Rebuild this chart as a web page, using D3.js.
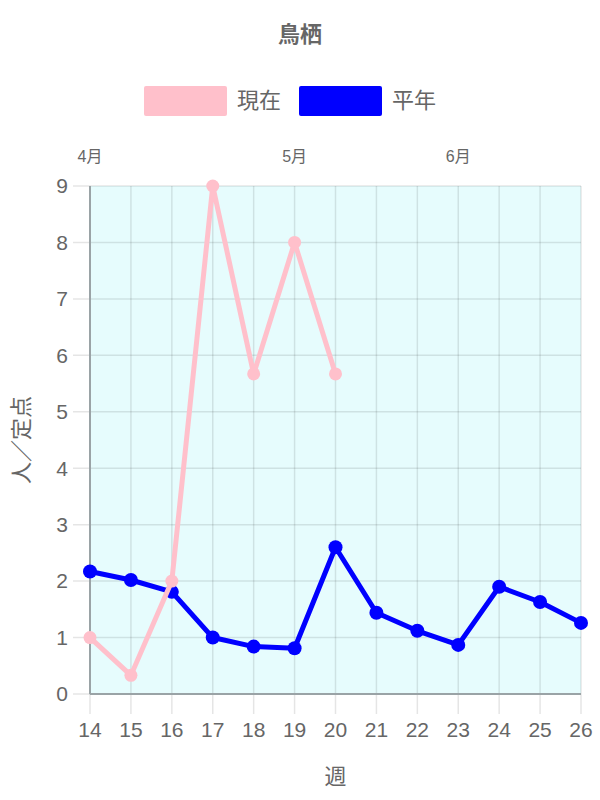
<!DOCTYPE html>
<html>
<head>
<meta charset="utf-8">
<script src="https://cdn.jsdelivr.net/npm/d3@7"></script>
<style>
  body { margin: 0; background: #fff; }
  text { font-family: "Liberation Sans", "Noto Sans CJK JP", sans-serif; fill: #666; }
</style>
</head>
<body>
<div id="chart"></div>
<script>
// data
var weeks = [14, 15, 16, 17, 18, 19, 20, 21, 22, 23, 24, 25, 26];
var current = [1, 0.33, 2, 9, 5.67, 8, 5.67];          // 現在 (weeks 14-20)
var average = [2.17, 2.02, 1.81, 1.0, 0.84, 0.81, 2.6, 1.44, 1.12, 0.87, 1.9, 1.63, 1.26]; // 平年
var months = [{ label: "4月", week: 14 }, { label: "5月", week: 19 }, { label: "6月", week: 23 }];
var yTicks = [0, 1, 2, 3, 4, 5, 6, 7, 8, 9];

var W = 600, H = 800;
var margin = { top: 186, right: 19, bottom: 106, left: 90 };
var width = W - margin.left - margin.right;
var height = H - margin.top - margin.bottom;

var svg = d3.select("#chart").append("svg")
    .attr("width", W)
    .attr("height", H);

var g = svg.append("g")
    .attr("transform", "translate(" + margin.left + "," + margin.top + ")");

var x = d3.scaleLinear().domain([14, 26]).range([0, width]);
var y = d3.scaleLinear().domain([0, 9]).range([height, 0]);

// plot background
g.append("rect")
    .attr("width", width).attr("height", height)
    .style("fill", "#e6fcfd");

// horizontal grid, with tick marks out to the left
g.selectAll("hgrid").data(yTicks).enter().append("line")
    .attr("x1", -17).attr("x2", width)
    .attr("y1", function (d) { return y(d) }).attr("y2", function (d) { return y(d) })
    .style("stroke", "rgba(0,0,0,0.1)")
    .style("stroke-width", 1.5);

// vertical grid, ticks below
g.selectAll("vgrid").data(weeks).enter().append("line")
    .attr("x1", function (d) { return x(d) }).attr("x2", function (d) { return x(d) })
    .attr("y1", 0).attr("y2", height + 20)
    .style("stroke", "rgba(0,0,0,0.1)")
    .style("stroke-width", 1.5);

// axis lines
g.append("line").attr("x1", 0).attr("x2", 0).attr("y1", 0).attr("y2", height)
    .style("stroke", "#9aa3a6").style("stroke-width", 2);
g.append("line").attr("x1", 0).attr("x2", width).attr("y1", height).attr("y2", height)
    .style("stroke", "#9aa3a6").style("stroke-width", 2);

// y tick labels
g.selectAll("ylab").data(yTicks).enter().append("text")
    .attr("x", -22)
    .attr("y", function (d) { return y(d) })
    .attr("dy", "0.35em")
    .attr("text-anchor", "end")
    .style("font-size", "21px")
    .text(function (d) { return d });

// x tick labels
g.selectAll("xlab").data(weeks).enter().append("text")
    .attr("x", function (d) { return x(d) })
    .attr("y", height + 43)
    .attr("text-anchor", "middle")
    .style("font-size", "21px")
    .text(function (d) { return d });

// month labels on top
g.selectAll("mlab").data(months).enter().append("text")
    .attr("x", function (d) { return x(d.week) })
    .attr("y", -24)
    .attr("text-anchor", "middle")
    .style("font-size", "16px")
    .text(function (d) { return d.label });

// axis titles
svg.append("text")
    .attr("x", margin.left + width / 2)
    .attr("y", 784)
    .attr("text-anchor", "middle")
    .style("font-size", "22px")
    .text("週");
svg.append("text")
    .attr("transform", "translate(29," + (margin.top + height / 2) + ") rotate(-90)")
    .attr("text-anchor", "middle")
    .style("font-size", "22px")
    .text("人／定点");

// title
svg.append("text")
    .attr("x", W / 2).attr("y", 42)
    .attr("text-anchor", "middle")
    .style("font-size", "22px")
    .style("font-weight", "bold")
    .text("鳥栖");

// legend
var legend = [{ name: "現在", color: "pink", x: 144 }, { name: "平年", color: "blue", x: 299 }];
var lg = svg.selectAll("legend").data(legend).enter().append("g");
lg.append("rect")
    .attr("x", function (d) { return d.x }).attr("y", 86)
    .attr("width", 83).attr("height", 30)
    .attr("rx", 2)
    .style("fill", function (d) { return d.color });
lg.append("text")
    .attr("x", function (d) { return d.x + 93 }).attr("y", 100)
    .attr("dy", "0.35em")
    .style("font-size", "22px")
    .text(function (d) { return d.name });

// lines
var line = d3.line()
    .x(function (d, i) { return x(weeks[i]) })
    .y(function (d) { return y(d) });

function drawSeries(values, color, r) {
    g.append("path")
        .datum(values)
        .attr("d", line)
        .style("fill", "none")
        .style("stroke", color)
        .style("stroke-width", 5)
        .style("stroke-linejoin", "round");
    g.selectAll("pts").data(values).enter().append("circle")
        .attr("cx", function (d, i) { return x(weeks[i]) })
        .attr("cy", function (d) { return y(d) })
        .attr("r", r)
        .style("fill", color);
}
drawSeries(average, "blue", 7);
drawSeries(current, "pink", 6.5);
</script>
</body>
</html>
